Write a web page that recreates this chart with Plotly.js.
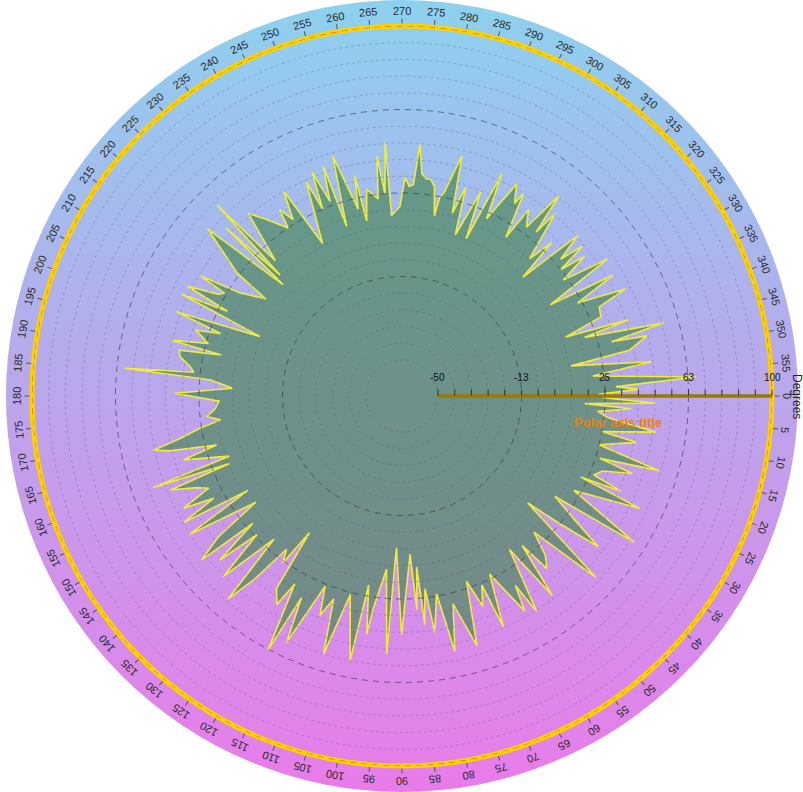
<!DOCTYPE html>
<html>
<head>
<meta charset="utf-8">
<script src="https://cdn.plot.ly/plotly-3.0.1.min.js"></script>
<style>
  html, body { margin: 0; padding: 0; background: #ffffff; }
  #chart { width: 803px; height: 792px; }
</style>
</head>
<body>
<div id="chart"></div>
<script>
// ---- data (angle in degrees, value on the radial scale) ----
const thetaDeg = [
  0.5, 1.6, 2.4, 3.2, 4.5, 6.0, 8.1, 10.1, 11.2, 13.9, 16.2, 17.5, 18.6, 20.5, 22.4, 23.5, 24.4, 25.3, 28.8, 32.2,
  33.3, 35.6, 37.5, 39.0, 40.4, 43.1, 45.9, 48.0, 50.0, 51.2, 53.0, 55.0, 58.0, 59.1, 60.3, 63.8, 66.3, 67.1, 69.0, 70.8,
  73.3, 76.2, 78.3, 80.1, 82.1, 83.2, 84.3, 85.1, 86.0, 87.1, 90.1,
  92.1, 93.4, 95.1, 97.7, 98.4, 100.0, 101.1, 104.6, 106.9, 108.6, 110.5, 112.0, 115.1, 116.5, 117.8, 119.7, 121.0, 123.1, 124.1,
  125.5, 127.0, 128.9, 130.6, 131.8, 134.7, 136.3, 138.0, 139.5, 140.7, 142.5, 144.0, 146.9, 148.5, 149.9, 151.5, 152.8, 154.5, 156.0,
  157.9, 158.6, 159.8, 160.8, 163.7, 165.2, 166.7, 167.7, 169.2, 170.9, 172.5, 174.0, 176.0, 178.4, 180.7,
  182.6, 184.8, 185.7, 186.5, 188.0, 190.0, 191.6, 192.8, 193.6, 195.2, 197.7, 199.0, 200.5, 202.7, 204.8, 205.9, 207.1, 209.0,
  210.1, 210.8, 212.5, 215.5, 216.7, 220.7, 223.1, 223.7, 224.8, 225.9, 226.9, 229.9, 232.4, 235.9, 236.7, 238.3, 240.0, 242.5,
  245.9, 247.0, 248.1, 249.7, 251.1, 251.9, 253.9, 256.8, 257.9, 258.6, 260.3, 263.1, 264.0, 265.2, 266.2, 266.7, 269.4,
  270.8, 272.0, 273.1, 274.1, 275.1, 276.3, 277.5, 278.8, 280.2, 280.8, 281.7, 284.0, 285.4, 287.0, 288.3, 291.1, 292.2, 294.2,
  295.5, 298.4, 300.3, 301.0, 303.2, 304.2, 306.4, 308.1, 309.3, 310.0, 312.9, 314.3, 315.5, 317.6, 319.2, 320.3, 321.5, 322.6,
  324.3, 326.3, 328.4, 330.2, 332.1, 334.4, 335.7, 338.3, 340.2, 341.4, 342.2, 344.4, 345.5, 346.2, 348.6, 349.9, 352.2, 354.0,
  356.3, 357.5, 358.4, 359.5
];
const values = [
  24, 48, 16, 37, 22, 27, 49, 25, 41, 25, 54, 27, 43, 30, 27, 41, 22, 52, 22, 57,
  16, 29, 45, 25, 8, 53, 19, 30, 35, 20, 46, 18, 48, 33, 45, 23, 47, 26, 35, 22,
  51, 30, 51, 24, 41, 21, 37, 11, 30, 5, 41,
  2, 50, 12, 30, 42, 20, 55, 26, 55, 30, 39, 26, 56, 35, 63, 31, 43, 37, 8,
  26, 20, 40, 54, 20, 48, 24, 44, 22, 50, 38, 15, 48, 15, 47, 30, 44, 30, 35,
  46, 17, 53, 16, 36, 20, 41, 48, 35, 26, 16, 22, 18, 16, 36,
  10, 20, 59, 28, 30, 35, 36, 17, 40, 24, 31, 20, 42, 3, 43, 21, 42, 28,
  26, 39, 20, 9, 26, 49, 7, 43, 11, 53, 17, 41, 34, 25, 34, 27, 40, 11,
  39, 25, 42, 27, 43, 14, 46, 20, 35, 14, 28, 23, 42, 25, 48, 15, 19,
  32, 28, 29, 47, 34, 32, 32, 29, 16, 25, 27, 45, 19, 32, 10, 32, 10, 43,
  22, 42, 34, 40, 19, 35, 28, 48, 29, 41, 18, 30, 10, 41, 28, 39, 25, 37,
  23, 45, 12, 43, 23, 45, 31, 30, 12, 41, 20, 56, 31, 47, 38, 11, 47, 20,
  66, 30, 40, 22
];

// radial axis ticks
const radialMin = -50, radialMax = 100;
const radialTickVals = [-50, -42.5, -35, -27.5, -20, -12.5, -5, 2.5, 10, 17.5, 25, 32.5, 40, 47.5, 55, 62.5, 70, 77.5, 85, 92.5, 100];
const radialLabelVals = [-50, -12.5, 25, 62.5, 100];
const radialLabelText = ['-50', '-13', '25', '63', '100'];
const majorGridVals = [-12.5, 25, 62.5, 100];
const minorGridVals = [-50, -42.5, -35, -27.5, -20, -5, 2.5, 10, 17.5, 32.5, 40, 47.5, 55, 70, 77.5, 85, 92.5];

// angular tick labels (degrees)
const angleLabels = [0, 5, 10, 15, 20, 25, 30, 35, 40, 45, 50, 55, 60, 65, 70, 75, 80, 85, 90, 95,
  100, 105, 110, 115, 120, 125, 130, 135, 140, 145, 150, 155, 160, 165, 170, 175, 180, 185, 190, 195,
  200, 205, 210, 215, 220, 225, 230, 235, 240, 245, 250, 255, 260, 265, 270, 275, 280, 285, 290, 295,
  300, 305, 310, 315, 320, 325, 330, 335, 340, 345, 350, 355];

// ---- layout geometry ----
const W = 803, H = 792;
const CX = 402, CY = 396, R = 370, RLABEL = 385, RDISK = 396;
const HOLE_PX = 36;  // the -50 end of the radial axis sits this far from the centre
const f = HOLE_PX / R;
const rangeLow = (radialMin - f * radialMax) / (1 - f);

const circleTheta = [];
for (let a = 0; a <= 360; a += 1) circleTheta.push(a);

const traces = [];
traces.push({
  type: 'scatterpolar',
  mode: 'lines',
  r: values,
  theta: thetaDeg,
  fill: 'toself',
  fillcolor: 'rgba(76,137,95,0.7)',
  line: { color: '#eeec3c', width: 1.6 },
  hoverinfo: 'skip',
  showlegend: false
});
minorGridVals.forEach(v => {
  traces.push({
    type: 'scatterpolar', mode: 'lines',
    r: circleTheta.map(() => v), theta: circleTheta,
    line: { color: 'rgba(90,90,125,0.33)', width: 1, dash: 'dot' },
    hoverinfo: 'skip', showlegend: false
  });
});
majorGridVals.forEach(v => {
  traces.push({
    type: 'scatterpolar', mode: 'lines',
    r: circleTheta.map(() => v), theta: circleTheta,
    line: { color: 'rgba(50,50,65,0.6)', width: 1, dash: '6px,5px' },
    hoverinfo: 'skip', showlegend: false
  });
});
traces.push({
  type: 'scatterpolar', mode: 'lines',
  r: [radialMin, radialMax], theta: [0, 0],
  line: { color: '#9a7a00', width: 3.5 },
  hoverinfo: 'skip', showlegend: false
});

const annotations = angleLabels.map(a => {
  const t = a * Math.PI / 180;
  const px = CX + RLABEL * Math.cos(t);
  const py = CY + RLABEL * Math.sin(t);
  let ang = (a + 90) % 360;
  if (ang > 180) ang -= 360;
  return {
    xref: 'paper', yref: 'paper',
    x: px / W, y: 1 - py / H,
    xanchor: 'center', yanchor: 'middle',
    text: String(a), showarrow: false, textangle: ang,
    font: { family: 'Liberation Sans, Arial, sans-serif', size: 11, color: '#2a2a2a' }
  };
});
// radial tick labels, placed above the axis line using the radial scale
radialLabelVals.forEach((v, i) => {
  const px = CX + R * (v - rangeLow) / (radialMax - rangeLow);
  annotations.push({
    xref: 'paper', yref: 'paper',
    x: px / W, y: 1 - (CY - 11) / H,
    xanchor: 'center', yanchor: 'bottom',
    text: radialLabelText[i], showarrow: false,
    font: { family: 'Liberation Sans, Arial, sans-serif', size: 10, color: '#111' }
  });
});
annotations.push({
  xref: 'paper', yref: 'paper', x: 797 / W, y: 0.5,
  xanchor: 'center', yanchor: 'middle',
  text: 'Degrees', showarrow: false, textangle: 90,
  font: { family: 'Liberation Sans, Arial, sans-serif', size: 12, color: '#222' }
});
annotations.push({
  xref: 'paper', yref: 'paper', x: 618 / W, y: 1 - 422 / H,
  xanchor: 'center', yanchor: 'middle',
  text: '<b>Polar axis title</b>', showarrow: false,
  font: { family: 'Liberation Sans, Arial, sans-serif', size: 13, color: '#e8820c' }
});

const svg = "<svg xmlns='http://www.w3.org/2000/svg' width='803' height='792' viewBox='0 0 803 792'>" +
  "<defs><linearGradient id='g' x1='0' y1='0' x2='0' y2='1'>" +
  "<stop offset='0' stop-color='#8dd1ee'/><stop offset='1' stop-color='#e97be9'/>" +
  "</linearGradient></defs>" +
  "<circle cx='" + CX + "' cy='" + CY + "' r='" + RDISK + "' fill='url(#g)'/></svg>";

const layout = {
  width: W, height: H,
  margin: { l: 0, r: 0, t: 0, b: 0, pad: 0 },
  paper_bgcolor: '#ffffff',
  showlegend: false,
  images: [{
    source: 'data:image/svg+xml;charset=utf-8,' + encodeURIComponent(svg),
    xref: 'paper', yref: 'paper', x: 0, y: 1, sizex: 1, sizey: 1,
    xanchor: 'left', yanchor: 'top', sizing: 'stretch', layer: 'below'
  }],
  polar: {
    domain: { x: [(CX - R) / W, (CX + R) / W], y: [1 - (CY + R) / H, 1 - (CY - R) / H] },
    bgcolor: 'rgba(0,0,0,0)',
    radialaxis: {
      range: [rangeLow, radialMax],
      angle: 0,
      side: 'counterclockwise',
      tickmode: 'array',
      tickvals: radialTickVals,
      ticks: 'outside', ticklen: 6, tickwidth: 1, tickcolor: '#333',
      showticklabels: false,
      showline: false,
      showgrid: false,
      layer: 'above traces'
    },
    angularaxis: {
      direction: 'clockwise', rotation: 0,
      tickmode: 'linear', tick0: 0, dtick: 5,
      ticks: 'outside', ticklen: 5, tickwidth: 1, tickcolor: '#555',
      showticklabels: false,
      showline: true, linecolor: '#ffd000', linewidth: 5,
      showgrid: false,
      layer: 'below traces'
    }
  },
  annotations: annotations
};

Plotly.newPlot('chart', traces, layout, { staticPlot: true, displayModeBar: false });
</script>
</body>
</html>
